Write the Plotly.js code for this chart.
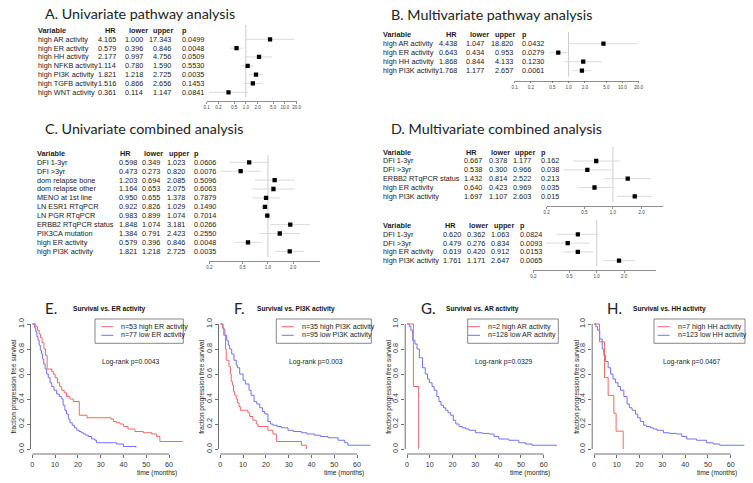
<!DOCTYPE html>
<html><head><meta charset="utf-8">
<script src="https://cdn.plot.ly/plotly-3.0.1.min.js"></script>
<style>html,body{margin:0;padding:0;background:#fff;}#chart{width:753px;height:483px;}</style>
</head><body><div id="chart"></div>
<script>
// ---------------- DATA ----------------
// A. Univariate pathway analysis
const A_variables = ["high AR activity","high ER activity","high HH activity","high NFKB activity","high PI3K activity","high TGFB activity","high WNT activity"];
const A_hr    = [4.165, 0.579, 2.177, 1.114, 1.821, 1.516, 0.361];
const A_lower = [1.000, 0.396, 0.997, 0.780, 1.218, 0.866, 0.114];
const A_upper = [17.343, 0.846, 4.756, 1.590, 2.725, 2.656, 1.147];
const A_p     = [0.0499, 0.0048, 0.0509, 0.5530, 0.0035, 0.1453, 0.0841];
// B. Multivariate pathway analysis
const B_variables = ["high AR activity","high ER activity","high HH activity","high PI3K activity"];
const B_hr    = [4.438, 0.643, 1.868, 1.768];
const B_lower = [1.047, 0.434, 0.844, 1.177];
const B_upper = [18.820, 0.953, 4.133, 2.657];
const B_p     = [0.0432, 0.0279, 0.1230, 0.0061];
// C. Univariate combined analysis
const C_variables = ["DFI 1-3yr","DFI >3yr","dom relapse bone","dom relapse other","MENO at 1st line","LN ESR1 RTqPCR","LN PGR RTqPCR","ERBB2 RTqPCR status","PIK3CA mutation","high ER activity","high PI3K activity"];
const C_hr    = [0.598, 0.473, 1.203, 1.164, 0.950, 0.922, 0.983, 1.848, 1.384, 0.579, 1.821];
const C_lower = [0.349, 0.273, 0.694, 0.653, 0.655, 0.826, 0.899, 1.074, 0.791, 0.396, 1.218];
const C_upper = [1.023, 0.820, 2.085, 2.075, 1.378, 1.029, 1.074, 3.181, 2.423, 0.846, 2.725];
const C_p     = [0.0606, 0.0076, 0.5096, 0.6063, 0.7879, 0.1490, 0.7014, 0.0266, 0.2550, 0.0048, 0.0035];
// D. Multivariate combined analysis (two models)
const D1_variables = ["DFI 1-3yr","DFI >3yr","ERBB2 RTqPCR status","high ER activity","high PI3K activity"];
const D1_hr    = [0.667, 0.538, 1.432, 0.640, 1.697];
const D1_lower = [0.378, 0.300, 0.814, 0.423, 1.107];
const D1_upper = [1.177, 0.966, 2.522, 0.969, 2.603];
const D1_p     = [0.162, 0.038, 0.213, 0.035, 0.015];
const D2_variables = ["DFI 1-3yr","DFI >3yr","high ER activity","high PI3K activity"];
const D2_hr    = [0.620, 0.479, 0.619, 1.761];
const D2_lower = [0.362, 0.276, 0.420, 1.171];
const D2_upper = [1.063, 0.834, 0.912, 2.647];
const D2_p     = [0.0824, 0.0093, 0.0153, 0.0065];
// forest axis tick labels
const ticksWide   = [0.1, 0.2, 0.5, 1, 2, 5, 10, 20];
const ticksNarrow = [0.2, 0.5, 1, 2];
const tableHeader = ["Variable","HR","lower","upper","p"];

// Kaplan-Meier curves (time in months, survival fraction)
const E_high_time = [0, 1.5, 2.2, 3, 3.6, 4.3, 5.1, 5.8, 6.5, 8.5, 9.2, 10, 11, 12, 12.9, 14, 15, 16.5, 18, 20.6, 24, 34.5, 35.6, 37, 38.5, 40, 42, 45, 48.7, 52.4, 54.6, 56, 66];
const E_high_surv = [1, 0.98, 0.95, 0.92, 0.89, 0.85, 0.80, 0.75, 0.64, 0.62, 0.60, 0.57, 0.53, 0.50, 0.47, 0.45, 0.42, 0.40, 0.38, 0.27, 0.25, 0.24, 0.22, 0.21, 0.20, 0.18, 0.16, 0.14, 0.13, 0.12, 0.10, 0.06, 0.06];
const E_low_time  = [0, 1, 1.5, 2, 2.5, 3, 3.5, 4, 4.5, 5, 5.6, 6.3, 7, 7.8, 8.5, 9.5, 10.7, 11.8, 12.9, 13.5, 14.3, 15, 15.8, 16.5, 17.5, 18.5, 19.5, 20.5, 21.5, 22.4, 23.5, 24.6, 26, 27.5, 28.2, 37, 40, 45.5];
const E_low_surv  = [1, 0.97, 0.94, 0.90, 0.87, 0.83, 0.79, 0.76, 0.72, 0.68, 0.64, 0.60, 0.57, 0.53, 0.50, 0.47, 0.44, 0.42, 0.40, 0.35, 0.31, 0.28, 0.24, 0.21, 0.19, 0.17, 0.15, 0.14, 0.13, 0.12, 0.11, 0.10, 0.08, 0.07, 0.05, 0.04, 0.02, 0.01];
const F_high_time = [0, 0.9, 1.5, 2.3, 2.6, 3.8, 4.4, 4.8, 5.3, 5.8, 6.3, 7, 7.5, 8.2, 8.8, 12.1, 12.9, 14.3, 15.8, 16.5, 20.9, 23.1, 24.6, 35.6, 37.8];
const F_high_surv = [1, 0.97, 0.91, 0.80, 0.71, 0.66, 0.60, 0.54, 0.51, 0.46, 0.43, 0.40, 0.37, 0.34, 0.31, 0.29, 0.26, 0.23, 0.20, 0.18, 0.15, 0.12, 0.06, 0.03, 0];
const F_low_time  = [0, 1.2, 2, 2.8, 3.5, 4.1, 5, 6, 7, 7.5, 8.5, 10, 11, 12.6, 13.5, 14.8, 16, 17.3, 18.5, 19.5, 20.9, 22, 23.1, 25, 26.8, 29.7, 32, 35.6, 38, 41.4, 44, 47.3, 51.7, 54.6, 56, 66];
const F_low_surv  = [1, 0.96, 0.91, 0.87, 0.83, 0.80, 0.76, 0.71, 0.67, 0.65, 0.60, 0.55, 0.52, 0.47, 0.43, 0.38, 0.36, 0.33, 0.30, 0.28, 0.22, 0.20, 0.19, 0.18, 0.17, 0.15, 0.14, 0.13, 0.12, 0.11, 0.10, 0.09, 0.07, 0.05, 0.03, 0.03];
const G_high_time = [0, 2.8, 5.1];
const G_high_surv = [1, 0.5, 0];
const G_low_time  = [0, 1, 1.7, 2.5, 3.5, 4.4, 5.4, 6.8, 8, 9, 9.8, 11, 11.9, 13.1, 14, 14.9, 16, 17, 18, 19.2, 20.3, 21.4, 22.8, 24.3, 25.8, 27.2, 30.1, 33, 36, 38.2, 40.3, 44.7, 49.1, 52, 54.9, 65.8];
const G_low_surv  = [1, 0.98, 0.95, 0.87, 0.84, 0.80, 0.73, 0.65, 0.60, 0.56, 0.53, 0.50, 0.47, 0.42, 0.38, 0.35, 0.33, 0.31, 0.29, 0.27, 0.23, 0.20, 0.18, 0.17, 0.16, 0.15, 0.13, 0.125, 0.12, 0.10, 0.08, 0.07, 0.05, 0.04, 0.03, 0.03];
const H_high_time = [0, 2.4, 4.6, 6.2, 8.7, 9.7, 12.8];
const H_high_surv = [1, 0.857, 0.571, 0.429, 0.286, 0.143, 0];
const H_low_time  = [0, 0.8, 1.5, 2.5, 3.6, 4.3, 5.1, 6.2, 7.3, 8.3, 9.4, 10.5, 11.6, 13.1, 14.5, 15.5, 16.7, 18.2, 19.2, 20.3, 21.8, 23, 24.7, 26, 27.6, 30.5, 33, 36.3, 38.5, 40.7, 45, 49.4, 52.3, 55.2, 66];
const H_low_surv  = [1, 0.98, 0.95, 0.88, 0.80, 0.75, 0.70, 0.65, 0.60, 0.56, 0.53, 0.50, 0.47, 0.42, 0.36, 0.33, 0.31, 0.28, 0.25, 0.22, 0.19, 0.18, 0.17, 0.16, 0.15, 0.13, 0.125, 0.12, 0.10, 0.08, 0.07, 0.05, 0.04, 0.03, 0.03];
const km_pathways = ["ER", "PI3K", "AR", "HH"];
const km_n_high   = [53, 35, 2, 7];
const km_n_low    = [77, 95, 128, 123];
const km_logrank  = [0.0043, 0.003, 0.0329, 0.0467];
const km_xticks   = [0, 10, 20, 30, 40, 50, 60];
const km_yticks   = [0, 0.2, 0.4, 0.6, 0.8, 1.0];

// ---------------- BUILD ----------------
const W = 753, H = 483;
const fx = p => p / W, fy = p => 1 - p / H;
const TXT = "Liberation Sans, Arial, sans-serif";
const TITLEF = "Lato, Open Sans, sans-serif";
const TS = 7.3;
const data = [], annotations = [], shapes = [];
const layout = {width: W, height: H, margin: {l:0, r:0, t:0, b:0}, paper_bgcolor: "#fff", plot_bgcolor: "rgba(0,0,0,0)", showlegend: false};

function addText(text, x, y, opts) {
  annotations.push(Object.assign({text: text, x: x, y: y, xref: "paper", yref: "paper", showarrow: false,
    xanchor: "left", yanchor: "middle", font: {family: TXT, size: TS, color: "#1a1a1a"}}, opts || {}));
}

const forests = [
  {d:[A_variables,A_hr,A_lower,A_upper,A_p], pd:4, ticks:ticksWide, row0:39.3, sp:8.83, top:25, bottom:101, x0:206.7, x1:296.7, lg:[-1, Math.log10(20)],
   c:{v:36, hrH:103, hrR:118.3, loH:126.7, loR:145, upH:151.3, upR:173.3, p:180}},
  {d:[B_variables,B_hr,B_lower,B_upper,B_p], pd:4, ticks:ticksWide, row0:43.7, sp:9, top:31.7, bottom:80.7, x0:514.7, x1:638.7, lg:[-1, Math.log10(20)],
   c:{v:381, hrH:443.7, hrR:459.3, loH:467.7, loR:486, upH:492.7, upR:515.3, p:520}},
  {d:[C_variables,C_hr,C_lower,C_upper,C_p], pd:4, ticks:ticksNarrow, row0:162.3, sp:8.9, top:155, bottom:261, x0:209.3, x1:319.9, lg:[Math.log10(0.2), 0.62],
   c:{v:35, hrH:118.3, hrR:139.3, loH:142.3, loR:161.7, upH:166.7, upR:186.7, p:192.3}},
  {d:[D1_variables,D1_hr,D1_lower,D1_upper,D1_p], pd:3, ticks:ticksNarrow, row0:161, sp:8.83, top:147, bottom:206, x0:546.5, x1:663.3, lg:[Math.log10(0.2), 0.53],
   c:{v:381, hrH:464.3, hrR:483.7, loH:488.7, loR:508.7, upH:513.3, upR:533.3, p:539.3}},
  {d:[D2_variables,D2_hr,D2_lower,D2_upper,D2_p], pd:4, ticks:ticksNarrow, row0:234.3, sp:8.8, top:220, bottom:270, x0:533.3, x1:655.7, lg:[Math.log10(0.2), 0.65],
   c:{v:381, hrH:443.3, hrR:463.3, loH:466.7, loR:486.7, upH:491.7, upR:511, p:517.7}}
];

forests.forEach((f, k) => {
  const idx = k + 1, xa = "x" + (idx > 1 ? idx : ""), ya = "y" + (idx > 1 ? idx : "");
  const [vars, hr, lo, up, pv] = f.d;
  const iTop = (f.top - f.row0) / f.sp, iBot = (f.bottom - f.row0) / f.sp;
  const rows = vars.map((_, i) => i);
  const rowY = i => fy(f.row0 + f.sp * i);
  layout["xaxis" + (idx > 1 ? idx : "")] = {domain: [fx(f.x0), fx(f.x1)], anchor: ya, type: "log", range: f.lg,
    tickvals: f.ticks, ticktext: f.ticks.map(t => t.toFixed(1)), ticks: "outside", ticklen: 2, tickwidth: 0.6, tickcolor: "#444",
    showline: true, linewidth: 0.6, linecolor: "#444", showgrid: false, zeroline: false, fixedrange: true,
    tickfont: {family: TXT, size: 4.5, color: "#444"}};
  layout["yaxis" + (idx > 1 ? idx : "")] = {domain: [fy(f.bottom), fy(f.top)], anchor: xa, range: [iBot, iTop], visible: false, fixedrange: true};
  // reference line at HR = 1
  data.push({type: "scatter", mode: "lines", x: [1, 1], y: [iTop, iBot - 0.45], xaxis: xa, yaxis: ya,
    line: {color: "rgb(205,205,205)", width: 1}, hoverinfo: "skip"});
  // confidence intervals
  const cx = [], cy = [];
  rows.forEach(i => { cx.push(lo[i], up[i], null); cy.push(i, i, null); });
  data.push({type: "scatter", mode: "lines", x: cx, y: cy, xaxis: xa, yaxis: ya,
    line: {color: "rgb(218,218,218)", width: 1}, hoverinfo: "skip"});
  // point estimates
  data.push({type: "scatter", mode: "markers", x: hr, y: rows, xaxis: xa, yaxis: ya,
    marker: {symbol: "square", size: 4.3, color: "#000"}, hoverinfo: "skip"});
  // table
  const hy = rowY(-1);
  addText("<b>" + tableHeader[0] + "</b>", fx(f.c.v), hy);
  addText("<b>" + tableHeader[1] + "</b>", fx(f.c.hrH), hy);
  addText("<b>" + tableHeader[2] + "</b>", fx(f.c.loH), hy);
  addText("<b>" + tableHeader[3] + "</b>", fx(f.c.upH), hy);
  addText("<b>" + tableHeader[4] + "</b>", fx(f.c.p), hy);
  rows.forEach(i => {
    const y = rowY(i);
    addText(vars[i], fx(f.c.v), y);
    addText(hr[i].toFixed(3), fx(f.c.hrR), y, {xanchor: "right"});
    addText(lo[i].toFixed(3), fx(f.c.loR), y, {xanchor: "right"});
    addText(up[i].toFixed(3), fx(f.c.upR), y, {xanchor: "right"});
    addText(pv[i].toFixed(f.pd), fx(f.c.p), y);
  });
});

// Section titles
const TT = {family: TITLEF, size: 14.3, color: "#222"};
addText("A. Univariate pathway analysis", fx(43.3), fy(13.3), {font: TT});
addText("B. Multivariate pathway analysis", fx(389.3), fy(15), {font: TT});
addText("C. Univariate combined analysis", fx(43.3), fy(128), {font: TT});
addText("D. Multivariate combined analysis", fx(389.3), fy(128), {font: TT});

// Kaplan-Meier panels
const kmData = [[E_high_time,E_high_surv,E_low_time,E_low_surv],[F_high_time,F_high_surv,F_low_time,F_low_surv],
                [G_high_time,G_high_surv,G_low_time,G_low_surv],[H_high_time,H_high_surv,H_low_time,H_low_surv]];
const kmLay = [
  {x0:30.5,  letter:"E.", lx:43,    tc:109,   box:[95,183.3],    tx:119.3, lr:130,   ylab:13,    xlab:156.7},
  {x0:218.5, letter:"F.", lx:231.7, tc:296,   box:[276.3,371.3], tx:299.7, lr:315.5, ylab:201.3, xlab:343.5},
  {x0:405.2, letter:"G.", lx:419.3, tc:482.7, box:[467.7,558.3], tx:486,   lr:504,   ylab:388.3, xlab:530},
  {x0:592.2, letter:"H.", lx:605,   tc:669.7, box:[654,745],     tx:675.7, lr:691,   ylab:576.3, xlab:716.5}
];
const RED = "rgb(240,105,105)", BLUE = "rgb(115,115,240)";
const kmTop = 319, kmBot = 454, pxPerMonth = 2.278, xr = [-0.8, 66.3];
const TTL = {family: TITLEF, size: 15, color: "#222"};
kmLay.forEach((L, k) => {
  const idx = k + 6, xa = "x" + idx, ya = "y" + idx;
  const [th, sh, tl, sl] = kmData[k];
  layout["xaxis" + idx] = {domain: [fx(L.x0), fx(L.x0 + (xr[1] - xr[0]) * pxPerMonth)], anchor: ya, range: xr,
    tickvals: km_xticks, ticks: "outside", ticklen: 3, tickwidth: 0.7, tickcolor: "#333", showline: false,
    showgrid: false, zeroline: false, fixedrange: true, tickfont: {family: TXT, size: 7.2, color: "#333"}};
  layout["yaxis" + idx] = {domain: [fy(kmBot), fy(kmTop)], anchor: xa, range: [-0.04, 1.04],
    tickvals: km_yticks, ticktext: km_yticks.map(v => v.toFixed(1)), tickangle: -90, ticks: "outside", ticklen: 3,
    tickwidth: 0.7, tickcolor: "#333", showline: false, showgrid: false, zeroline: false, fixedrange: true,
    tickfont: {family: TXT, size: 7.2, color: "#333"}};
  // axis lines spanning tick range (R style)
  shapes.push({type: "line", xref: xa, yref: ya + " domain", x0: km_xticks[0], x1: km_xticks[km_xticks.length - 1], y0: 0, y1: 0, line: {color: "#333", width: 0.7}});
  shapes.push({type: "line", xref: xa + " domain", yref: ya, x0: 0, x1: 0, y0: km_yticks[0], y1: km_yticks[km_yticks.length - 1], line: {color: "#333", width: 0.7}});
  data.push({type: "scatter", mode: "lines", x: tl, y: sl, xaxis: xa, yaxis: ya, line: {color: BLUE, width: 1, shape: "hv"}, hoverinfo: "skip"});
  data.push({type: "scatter", mode: "lines", x: th, y: sh, xaxis: xa, yaxis: ya, line: {color: RED, width: 1, shape: "hv"}, hoverinfo: "skip"});
  // panel letter and title
  addText(L.letter, fx(L.lx), fy(308), {font: TTL});
  addText("<b>Survival vs. " + km_pathways[k] + " activity</b>", fx(L.tc), fy(308.5), {xanchor: "center", font: {family: TXT, size: 6.6, color: "#111"}});
  // legend
  shapes.push({type: "rect", xref: "paper", yref: "paper", x0: fx(L.box[0]), x1: fx(L.box[1]), y0: fy(343.3), y1: fy(kmTop),
    line: {color: "#555", width: 0.7}, fillcolor: "rgba(0,0,0,0)"});
  shapes.push({type: "line", xref: "paper", yref: "paper", x0: fx(L.tx - 18), x1: fx(L.tx - 6), y0: fy(326.7), y1: fy(326.7), line: {color: RED, width: 1}});
  shapes.push({type: "line", xref: "paper", yref: "paper", x0: fx(L.tx - 18), x1: fx(L.tx - 6), y0: fy(335.3), y1: fy(335.3), line: {color: BLUE, width: 1}});
  const lf = {family: TXT, size: 7.1, color: "#222"};
  addText("n=" + km_n_high[k] + " high " + km_pathways[k] + " activity", fx(L.tx), fy(326.7), {font: lf});
  addText("n=" + km_n_low[k] + " low " + km_pathways[k] + " activity", fx(L.tx), fy(335.3), {font: lf});
  addText("Log-rank p=" + km_logrank[k], fx(L.lr), fy(362.3), {xanchor: "center", font: {family: TXT, size: 6.8, color: "#222"}});
  addText("fraction progression free survival", fx(L.ylab), fy(386.5), {xanchor: "center", textangle: -90, font: {family: TXT, size: 6.5, color: "#222"}});
  addText("time (months)", fx(L.xlab), fy(472.7), {xanchor: "center", font: {family: TXT, size: 6.6, color: "#222"}});
});

layout.annotations = annotations;
layout.shapes = shapes;
Plotly.newPlot("chart", data, layout, {staticPlot: true, displayModeBar: false});
</script></body></html>
